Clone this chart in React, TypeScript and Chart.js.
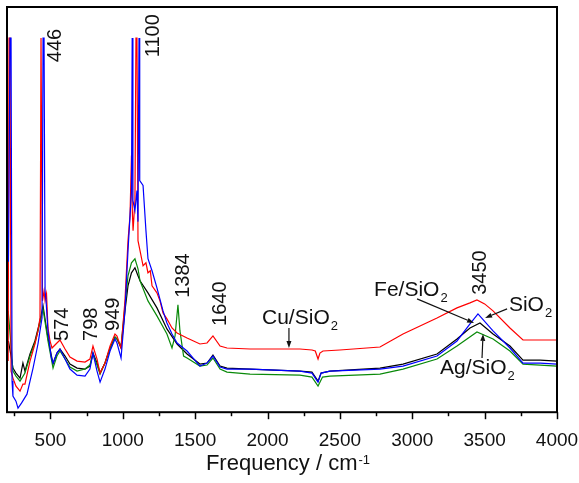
import React, { useEffect, useRef } from 'react';
import { Chart, registerables } from 'chart.js';

Chart.register(...registerables);

// ---- Data (frequency in cm-1, intensity in arbitrary units) ----
const cuX = [208, 214, 221, 228, 241, 262, 290, 310, 324, 359, 393, 414, 428, 435, 440, 445, 456, 463, 473, 483, 497, 511, 545, 566, 601, 635, 684, 739, 773, 794, 822, 843, 877, 912, 946, 960, 988, 1015, 1036, 1050, 1060, 1066, 1071, 1084, 1091, 1098, 1105, 1119, 1140, 1160, 1174, 1190, 1202, 1236, 1257, 1278, 1305, 1340, 1375, 1444, 1533, 1582, 1623, 1672, 1720, 1879, 2224, 2307, 2330, 2349, 2362, 2383, 2500, 2777, 2936, 3171, 3309, 3399, 3447, 3500, 3558, 3675, 3765, 3883, 4000];
const cuY = [51, 373, 373, 41, 34, 26, 21, 28, 28, 51, 68, 81, 94, 373, 373, 111, 121, 111, 118, 84, 71, 64, 69, 72, 63, 55, 51, 50, 53, 66, 53, 39, 49, 66, 78, 76, 64, 111, 171, 196, 256, 200, 181, 211, 373, 373, 171, 161, 146, 149, 139, 141, 126, 119, 111, 99, 93, 84, 79, 74, 68, 69, 76, 66, 64, 63, 63, 62, 61, 53, 59, 61, 62, 65, 78, 94, 104, 109, 112, 108, 101, 84, 72, 72, 72];

const feX = [210, 221, 228, 235, 241, 262, 276, 300, 338, 359, 380, 414, 442, 449, 456, 463, 470, 483, 504, 518, 545, 566, 601, 635, 684, 739, 773, 794, 822, 843, 877, 912, 946, 960, 988, 1015, 1036, 1050, 1060, 1065, 1070, 1084, 1098, 1105, 1112, 1117, 1140, 1160, 1174, 1202, 1236, 1278, 1305, 1340, 1375, 1444, 1533, 1582, 1623, 1672, 1720, 1879, 2224, 2307, 2349, 2370, 2431, 2777, 2936, 3171, 3309, 3399, 3454, 3558, 3675, 3765, 3883, 4000];
const feY = [150, 373, 373, 31, 16, 11, 4, 9, 18, 31, 44, 68, 94, 373, 373, 121, 111, 81, 56, 49, 59, 63, 53, 43, 37, 36, 43, 59, 41, 30, 43, 61, 73, 69, 54, 101, 161, 196, 220, 373, 211, 201, 221, 190, 373, 231, 226, 181, 153, 141, 124, 101, 89, 78, 69, 61, 46, 49, 56, 45, 43, 43, 41, 39, 30, 39, 41, 43, 46, 56, 71, 88, 98, 81, 64, 49, 49, 48];

const siX = [210, 228, 241, 262, 290, 310, 324, 359, 393, 428, 449, 483, 518, 545, 566, 601, 635, 684, 739, 773, 794, 822, 843, 877, 912, 946, 960, 988, 1015, 1036, 1060, 1084, 1105, 1119, 1174, 1236, 1305, 1375, 1444, 1533, 1582, 1623, 1672, 1720, 1879, 2224, 2307, 2349, 2370, 2431, 2777, 2936, 3171, 3309, 3399, 3468, 3558, 3675, 3765, 3883, 4000];
const siY = [71, 56, 44, 39, 34, 49, 41, 58, 71, 91, 106, 74, 48, 59, 63, 56, 48, 44, 43, 46, 59, 49, 39, 49, 64, 75, 73, 64, 101, 126, 139, 144, 136, 131, 119, 104, 83, 68, 58, 48, 49, 57, 46, 44, 43, 41, 40, 31, 39, 41, 44, 48, 58, 73, 84, 89, 78, 66, 52, 52, 51];

const agX = [208, 214, 228, 241, 262, 290, 324, 359, 393, 428, 449, 483, 518, 545, 566, 601, 635, 684, 739, 773, 794, 822, 843, 877, 912, 946, 960, 988, 1015, 1036, 1060, 1084, 1105, 1119, 1174, 1236, 1305, 1340, 1361, 1381, 1395, 1420, 1444, 1533, 1582, 1623, 1672, 1720, 1879, 2224, 2307, 2349, 2380, 2431, 2777, 2936, 3171, 3309, 3447, 3558, 3675, 3765, 3883, 4000];
const agY = [101, 91, 66, 41, 36, 31, 39, 56, 69, 89, 103, 71, 44, 56, 61, 53, 45, 41, 43, 47, 58, 47, 38, 49, 63, 75, 73, 66, 106, 136, 149, 153, 143, 131, 111, 96, 78, 64, 76, 107, 81, 56, 54, 46, 47, 54, 43, 40, 38, 37, 35, 26, 35, 36, 38, 43, 53, 66, 80, 73, 61, 48, 47, 46];

// ---- Axis ----
const xMin = 200;
const xMax = 4000;
const xTickValues = [250, 500, 750, 1000, 1250, 1500, 1750, 2000, 2250, 2500, 2750, 3000, 3250, 3500, 3750, 4000];
const xLabelStep = 500;
const yMin = 0;
const yMax = 404;
const xTitle = 'Frequency / cm';
const xTitleSup = '-1';

// ---- Peak annotations (rotated numbers) ----
const peakLabels = ['446', '1100', '574', '798', '949', '1384', '1640', '3450'];
const peakLabelFreq = [532, 1212, 580, 787, 939, 1416, 1672, 3468];
const peakLabelBase = [349, 354, 71, 71, 81, 114, 86, 117];

// ---- Sample labels with arrows ----
const sampleLabels = ['Cu/SiO', 'Fe/SiO', 'SiO', 'Ag/SiO'];
const sampleSub = ['2', '2', '2', '2'];
const sampleLabelFreq = [1962, 2736, 3668, 3192];
const sampleLabelVal = [88, 116, 101, 38];
const arrowFromFreq = [2148, 3033, 3655, 3482];
const arrowFromVal = [84, 113, 103, 54];
const arrowToFreq = [2148, 3427, 3503, 3489];
const arrowToVal = [64, 89, 94, 78];

const FONT = '"Liberation Sans", Arial, Helvetica, sans-serif';

function toPts(xs: number[], ys: number[]) {
  return xs.map((x, i) => ({ x, y: ys[i] }));
}

function isMultiple(v: number, step: number) {
  const r = v / step;
  return Math.abs(r - Math.round(r)) < 1e-6;
}

const overlay = {
  id: 'overlay',
  afterDatasetsDraw(chart: any) {
    const { ctx, chartArea: a, scales } = chart;
    const x = scales.x;
    const y = scales.y;
    ctx.save();
    // frame
    ctx.strokeStyle = '#000';
    ctx.lineWidth = 2;
    ctx.strokeRect(a.left, a.top, a.right - a.left, a.bottom - a.top);
    // x ticks (outward)
    ctx.lineWidth = 1.5;
    x.ticks.forEach((t: any) => {
      const px = Math.round(x.getPixelForValue(t.value)) + 0.5;
      const len = isMultiple(t.value, xLabelStep) ? 7 : 4;
      ctx.beginPath();
      ctx.moveTo(px, a.bottom);
      ctx.lineTo(px, a.bottom + len);
      ctx.stroke();
    });
    // rotated peak labels
    ctx.fillStyle = '#111';
    ctx.font = `20px ${FONT}`;
    peakLabels.forEach((s, i) => {
      ctx.save();
      ctx.translate(x.getPixelForValue(peakLabelFreq[i]), y.getPixelForValue(peakLabelBase[i]));
      ctx.rotate(-Math.PI / 2);
      ctx.textAlign = 'left';
      ctx.textBaseline = 'middle';
      ctx.fillText(s, 0, 0);
      ctx.restore();
    });
    // sample labels
    ctx.textAlign = 'left';
    ctx.textBaseline = 'alphabetic';
    sampleLabels.forEach((s, i) => {
      const px = x.getPixelForValue(sampleLabelFreq[i]);
      const py = y.getPixelForValue(sampleLabelVal[i]);
      ctx.font = `21px ${FONT}`;
      ctx.fillText(s, px, py);
      const w = ctx.measureText(s).width;
      ctx.font = `13px ${FONT}`;
      ctx.fillText(sampleSub[i], px + w + 1, py + 6);
    });
    // arrows
    ctx.strokeStyle = '#111';
    ctx.lineWidth = 1.2;
    arrowFromFreq.forEach((_, i) => {
      const x1 = x.getPixelForValue(arrowFromFreq[i]);
      const y1 = y.getPixelForValue(arrowFromVal[i]);
      const x2 = x.getPixelForValue(arrowToFreq[i]);
      const y2 = y.getPixelForValue(arrowToVal[i]);
      const ang = Math.atan2(y2 - y1, x2 - x1);
      const L = 7, Wd = 2.5;
      const bx = x2 - L * Math.cos(ang);
      const by = y2 - L * Math.sin(ang);
      ctx.beginPath();
      ctx.moveTo(x1, y1);
      ctx.lineTo(bx, by);
      ctx.stroke();
      ctx.beginPath();
      ctx.moveTo(x2, y2);
      ctx.lineTo(bx + Wd * Math.sin(ang), by - Wd * Math.cos(ang));
      ctx.lineTo(bx - Wd * Math.sin(ang), by + Wd * Math.cos(ang));
      ctx.closePath();
      ctx.fill();
    });
    // x-axis title with superscript
    ctx.font = `22px ${FONT}`;
    const tw = ctx.measureText(xTitle).width;
    ctx.font = `13px ${FONT}`;
    const sw = ctx.measureText(xTitleSup).width;
    const cx = (a.left + a.right) / 2 + 6;
    const startX = cx - (tw + sw + 1) / 2;
    const baseY = a.bottom + 58;
    ctx.font = `22px ${FONT}`;
    ctx.fillText(xTitle, startX, baseY);
    ctx.font = `13px ${FONT}`;
    ctx.fillText(xTitleSup, startX + tw + 1, baseY - 6);
    ctx.restore();
  },
};

export default function App() {
  const ref = useRef<HTMLCanvasElement | null>(null);
  useEffect(() => {
    if (!ref.current) return;
    const common = { borderWidth: 1.2, pointRadius: 0, tension: 0, fill: false };
    const chart = new Chart(ref.current, {
      type: 'line',
      data: {
        datasets: [
          { label: 'Fe/SiO2', data: toPts(feX, feY), borderColor: '#0000ff', ...common },
          { label: 'Cu/SiO2', data: toPts(cuX, cuY), borderColor: '#ff0000', ...common },
          { label: 'Ag/SiO2', data: toPts(agX, agY), borderColor: '#0a8a0a', ...common },
          { label: 'SiO2', data: toPts(siX, siY), borderColor: '#000000', ...common },
        ],
      },
      options: {
        animation: false,
        responsive: false,
        devicePixelRatio: 1,
        parsing: false,
        layout: { padding: { left: 7, top: 7, right: 22, bottom: 21 } },
        plugins: { legend: { display: false }, tooltip: { enabled: false } },
        scales: {
          x: {
            type: 'linear',
            min: xMin,
            max: xMax,
            afterBuildTicks: (s: any) => {
              s.ticks = xTickValues.map((v) => ({ value: v }));
            },
            afterFit: (s: any) => {
              s.paddingLeft = 0;
              s.paddingRight = 0;
            },
            ticks: {
              autoSkip: false,
              maxRotation: 0,
              padding: 10,
              color: '#111',
              font: { family: FONT, size: 19 },
              callback: (v: any) => (isMultiple(Number(v), xLabelStep) ? String(Math.round(Number(v))) : ''),
            },
            grid: { display: true, drawOnChartArea: false, drawTicks: true, tickLength: 7, tickColor: 'rgba(0,0,0,0)' },
            border: { display: false },
          },
          y: { type: 'linear', min: yMin, max: yMax, display: false },
        },
      },
      plugins: [overlay],
    } as any);
    return () => chart.destroy();
  }, []);
  return (
    <div style={{ position: 'absolute', left: 0, top: 0, width: 579, height: 483, background: '#fff' }}>
      <canvas ref={ref} width={579} height={483} style={{ display: 'block' }} />
    </div>
  );
}
